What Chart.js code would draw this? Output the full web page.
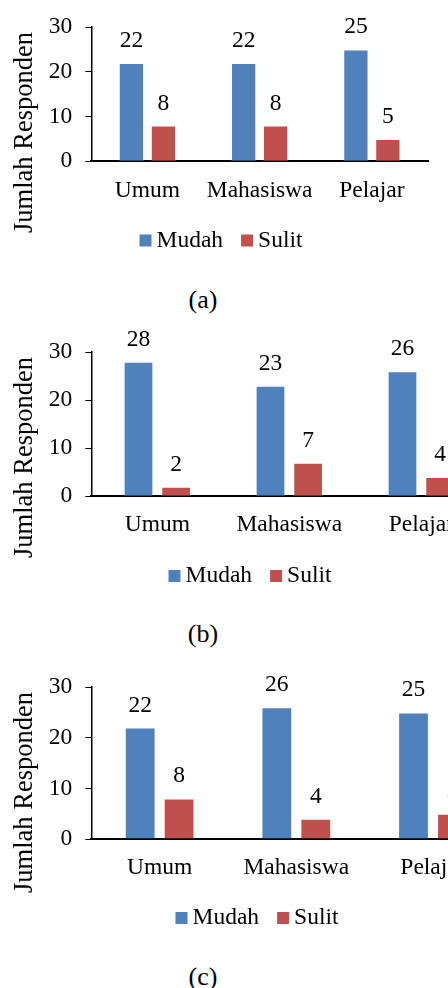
<!DOCTYPE html>
<html>
<head>
<meta charset="utf-8">
<script src="https://cdn.jsdelivr.net/npm/chart.js@4.4.1/dist/chart.umd.min.js"></script>
<style>
  html, body { margin: 0; padding: 0; width: 448px; height: 988px; overflow: hidden; background: #fff; }
  canvas { position: absolute; left: 0; }
  .caption { position: absolute; left: 0; width: 406px; text-align: center;
             font-family: "Liberation Serif", "Times New Roman", "DejaVu Serif"; font-size: 26px; line-height: 26px; color: #000; }
</style>
</head>
<body>
<canvas id="chartA" width="442" height="280" style="top:0px"></canvas>
<canvas id="chartB" width="500" height="280" style="top:325px"></canvas>
<canvas id="chartC" width="514" height="280" style="top:660px"></canvas>
<div class="caption" style="top:287px">(a)</div>
<div class="caption" style="top:621px">(b)</div>
<div class="caption" style="top:964px">(c)</div>
<script>
// data
var categories = ["Umum", "Mahasiswa", "Pelajar"];
var seriesNames = ["Mudah", "Sulit"];
var mudahA = [22, 22, 25];
var sulitA = [8, 8, 5];
var mudahB = [28, 23, 26];
var sulitB = [2, 7, 4];
var mudahC = [22, 26, 25];
var sulitC = [8, 4, 5];
var yTicks = [0, 10, 20, 30];
var yTitle = "Jumlah Responden";

var colors = ["#4F81BD", "#C0504D"];
var serif = '"Liberation Serif", "Times New Roman", "DejaVu Serif"';

Chart.defaults.font.family = serif;
Chart.defaults.color = "#000";

// value above each bar
var barValues = {
  id: "barValues",
  afterDatasetsDraw: function (chart) {
    var ctx = chart.ctx;
    ctx.save();
    ctx.font = "23.5px " + serif;
    ctx.fillStyle = "#000";
    ctx.textAlign = "center";
    ctx.textBaseline = "alphabetic";
    chart.data.datasets.forEach(function (ds, i) {
      chart.getDatasetMeta(i).data.forEach(function (bar, j) {
        ctx.fillText(ds.data[j], bar.x, bar.y - 16);
      });
    });
    ctx.restore();
  }
};

// rotated axis title, centred on the whole figure rather than the plot
var sideTitle = {
  id: "sideTitle",
  afterDraw: function (chart, args, opts) {
    var ctx = chart.ctx;
    ctx.save();
    ctx.font = "26.5px " + serif;
    ctx.fillStyle = "#000";
    ctx.textAlign = "center";
    ctx.textBaseline = "alphabetic";
    ctx.translate(opts.x, opts.y);
    ctx.rotate(-Math.PI / 2);
    ctx.fillText(opts.text, 0, 0);
    ctx.restore();
  }
};

// legend row: small square, short gap, label
var legendRow = {
  id: "legendRow",
  afterDraw: function (chart, args, opts) {
    var ctx = chart.ctx;
    var box = 12, gap = 5, spacing = 18;
    ctx.save();
    ctx.font = "23.5px " + serif;
    ctx.textBaseline = "middle";
    ctx.textAlign = "left";
    var items = chart.data.datasets.map(function (ds) {
      return { text: ds.label, color: ds.backgroundColor, w: ctx.measureText(ds.label).width };
    });
    var total = 0;
    items.forEach(function (it, i) { total += box + gap + it.w + (i ? spacing : 0); });
    var x = chart.width / 2 - total / 2;
    items.forEach(function (it) {
      ctx.fillStyle = it.color;
      ctx.fillRect(x, opts.y - box / 2, box, box);
      ctx.fillStyle = "#000";
      ctx.fillText(it.text, x + box + gap, opts.y);
      x += box + gap + it.w + spacing;
    });
    ctx.restore();
  }
};

function makeChart(id, mudah, sulit, g) {
  var ctx = document.getElementById(id).getContext("2d");
  return new Chart(ctx, {
    type: "bar",
    data: {
      labels: categories,
      datasets: [
        { label: seriesNames[0], data: mudah, backgroundColor: colors[0], borderColor: "rgba(255,255,255,0.35)", borderWidth: 1 },
        { label: seriesNames[1], data: sulit, backgroundColor: colors[1], borderColor: "rgba(255,255,255,0.35)", borderWidth: 1 }
      ]
    },
    options: {
      responsive: false,
      animation: false,
      devicePixelRatio: 1,
      events: [],
      categoryPercentage: 0.57,
      barPercentage: 0.79,
      layout: { padding: { left: 0, top: g.top, right: g.right, bottom: g.bottom } },
      scales: {
        x: {
          grid: { display: false, drawTicks: false },
          border: { display: true, color: "#000", width: 2 },
          ticks: { font: { size: 23.5 }, padding: g.labelPad, color: "#000" },
          afterFit: function (s) { s.height = 60; }
        },
        y: {
          min: yTicks[0],
          max: yTicks[yTicks.length - 1],
          ticks: { stepSize: yTicks[1] - yTicks[0], font: { size: 23.5 }, padding: 13, color: "#000" },
          grid: { drawOnChartArea: false, drawTicks: true, tickLength: 6, color: "#000", lineWidth: 1 },
          border: { display: true, color: "#000", width: 1.5 },
          afterFit: function (s) { s.width = 91.3; }
        }
      },
      plugins: {
        legend: { display: false },
        tooltip: { enabled: false },
        sideTitle: { text: yTitle, x: 32.3, y: 132.5 },
        legendRow: { y: g.legendY }
      }
    },
    plugins: [barValues, sideTitle, legendRow]
  });
}

function drawAll() {
  makeChart("chartA", mudahA, sulitA, { top: 24, right: 14, bottom: 58.7, labelPad: 15.4, legendY: 240.5 });
  makeChart("chartB", mudahB, sulitB, { top: 24, right: 12.7, bottom: 48.7, labelPad: 14.9, legendY: 251 });
  makeChart("chartC", mudahC, sulitC, { top: 23.3, right: 12.7, bottom: 41, labelPad: 14.5, legendY: 258 });
}

Promise.all([
  document.fonts.load('23.5px "Liberation Serif"'),
  document.fonts.load('26.5px "Liberation Serif"')
]).then(drawAll, drawAll);
</script>
</body>
</html>
